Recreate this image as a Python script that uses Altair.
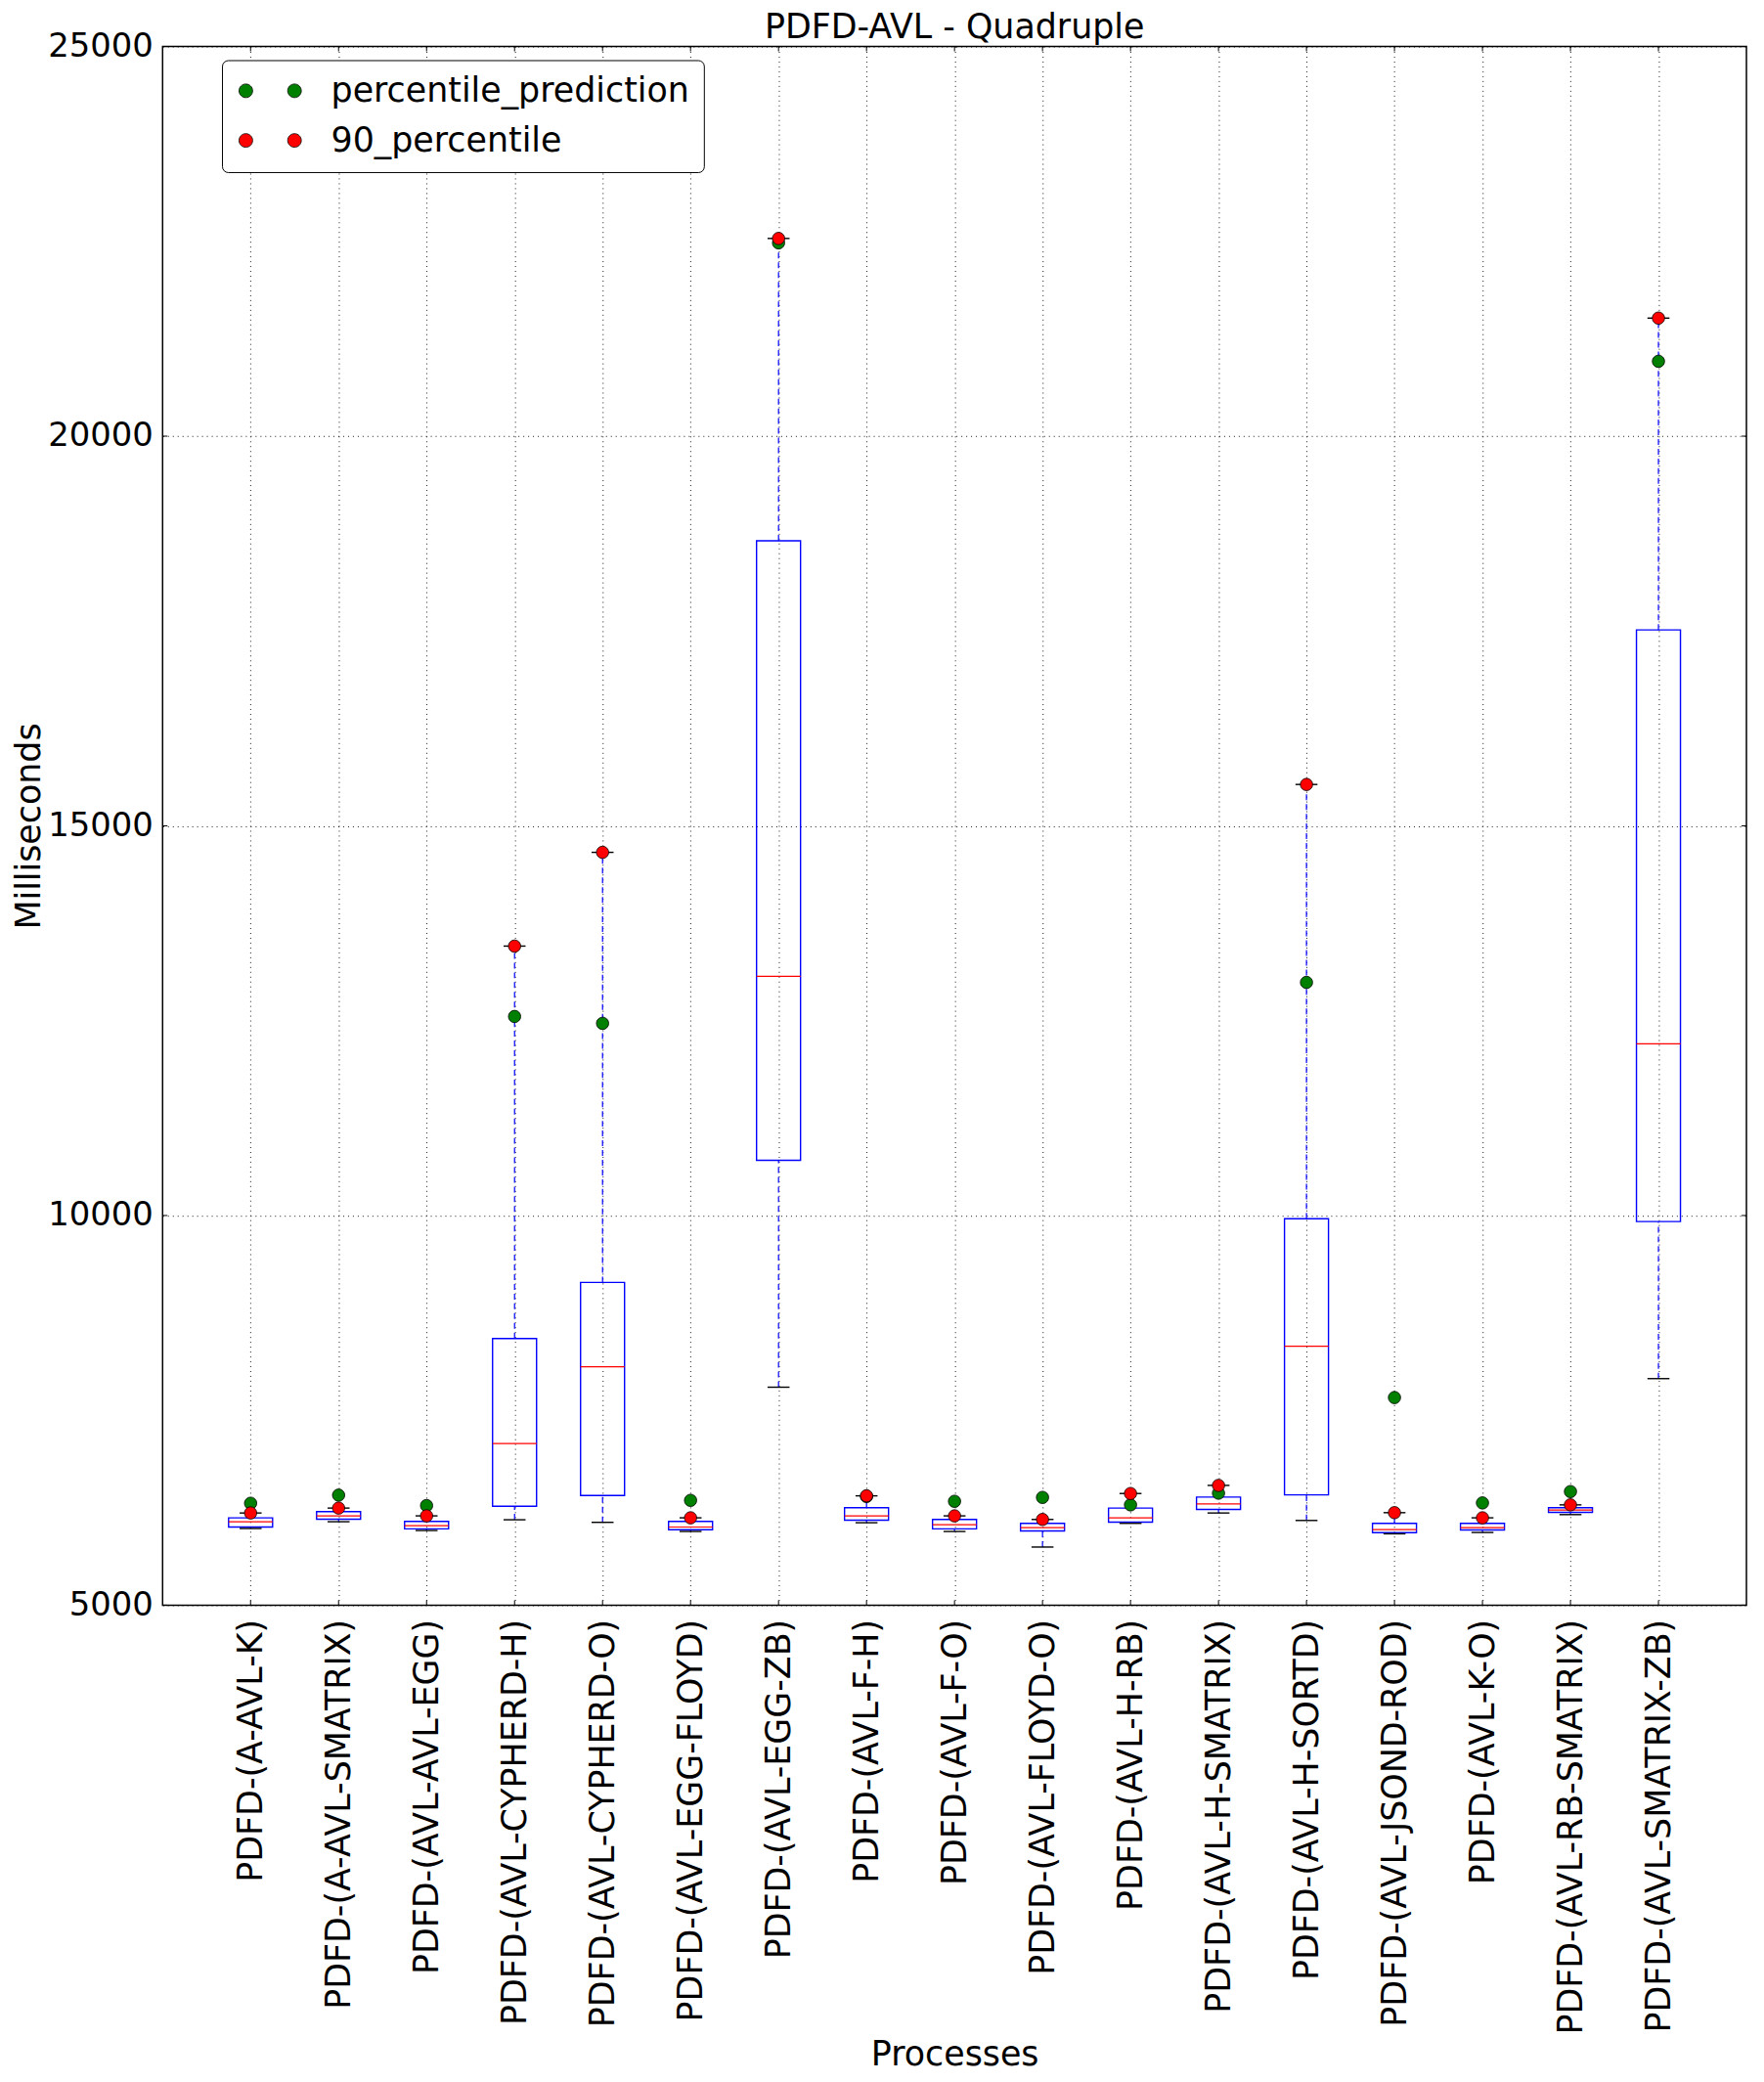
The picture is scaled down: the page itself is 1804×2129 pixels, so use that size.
import json
import altair as alt
import pandas as pd

names = ["PDFD-(A-AVL-K)", "PDFD-(A-AVL-SMATRIX)", "PDFD-(AVL-AVL-EGG)",
         "PDFD-(AVL-CYPHERD-H)", "PDFD-(AVL-CYPHERD-O)", "PDFD-(AVL-EGG-FLOYD)",
         "PDFD-(AVL-EGG-ZB)", "PDFD-(AVL-F-H)", "PDFD-(AVL-F-O)",
         "PDFD-(AVL-FLOYD-O)", "PDFD-(AVL-H-RB)", "PDFD-(AVL-H-SMATRIX)",
         "PDFD-(AVL-H-SORTD)", "PDFD-(AVL-JSOND-ROD)", "PDFD-(AVL-K-O)",
         "PDFD-(AVL-RB-SMATRIX)", "PDFD-(AVL-SMATRIX-ZB)"]
whisker_low = [5984, 6071, 5958, 6096, 6063, 5946, 7797, 6058, 5946, 5746, 6050, 6183, 6087, 5916, 5933, 6162, 7907]
q1 = [6003, 6103, 5979, 6270, 6408, 5968, 10709, 6091, 5979, 5953, 6066, 6228, 6416, 5931, 5966, 6191, 9922]
median = [6071, 6146, 6021, 7073, 8060, 6003, 13070, 6146, 6033, 5996, 6121, 6300, 8323, 5971, 5996, 6221, 12203]
q3 = [6121, 6200, 6075, 8422, 9141, 6075, 18657, 6250, 6100, 6050, 6246, 6387, 9958, 6050, 6050, 6250, 17514]
whisker_high = [6183, 6246, 6146, 13457, 14660, 6121, 22537, 6403, 6146, 6100, 6433, 6537, 15531, 6187, 6121, 6287, 21515]
percentile_prediction = [6308, 6412, 6278, 12554, 12466, 6345, 22480, 6395, 6333, 6383, 6287, 6437, 12991, 7664, 6312, 6458, 20961]
percentile_90 = [6183, 6246, 6146, 13457, 14660, 6121, 22537, 6403, 6146, 6100, 6433, 6537, 15531, 6187, 6121, 6287, 21515]
y_ticks = [5000, 10000, 15000, 20000, 25000]

series_names = ["percentile_prediction", "90_percentile"]
series_colors = ["#008000", "#FF0000"]

n = len(names)
idx = list(range(1, n + 1))
df = pd.DataFrame({
    "name": names, "idx": idx,
    "lo": whisker_low, "q1": q1, "med": median, "q3": q3, "hi": whisker_high,
    "percentile_prediction": percentile_prediction,
    "90_percentile": percentile_90,
})
X_MIN, X_MAX = 0, n + 1
Y_MIN, Y_MAX = y_ticks[0], y_ticks[-1]
ytick_df = pd.DataFrame({"y": y_ticks, "xl": [X_MIN] * len(y_ticks), "xr": [X_MAX] * len(y_ticks)})
xtick_df = pd.DataFrame({"x": idx, "yb": [Y_MIN] * n, "yt": [Y_MAX] * n})

FONT = "DejaVu Sans"
FS = 35
FSY = 34

label_expr = json.dumps(names) + "[datum.value - 1]"
xscale = alt.Scale(domain=[X_MIN, X_MAX], nice=False, zero=False)
yscale = alt.Scale(domain=[Y_MIN, Y_MAX], nice=False, zero=False)

xaxis = alt.Axis(values=idx, labelExpr=label_expr,
                 labelAngle=-90, labelFontSize=FS, labelFont=FONT, labelColor="black",
                 labelPadding=14, labelLimit=0, ticks=False, tickSize=0, domain=False,
                 grid=True, gridColor="black", gridDash=[1, 4], gridWidth=1, gridOpacity=0.9,
                 title="Processes", titleFontSize=FS, titleFont=FONT, titleFontWeight="normal",
                 titleColor="black", titleY=461, titleBaseline="middle",
                 labelOverlap=False, labelFlush=False)
yaxis = alt.Axis(values=y_ticks, format="d",
                 labelFontSize=FSY, labelFont=FONT, labelColor="black", labelPadding=10,
                 ticks=False, tickSize=0, domain=False,
                 grid=True, gridColor="black", gridDash=[1, 4], gridWidth=1, gridOpacity=0.9,
                 title="Milliseconds", titleFontSize=FS, titleFont=FONT, titleFontWeight="normal",
                 titleColor="black", titlePadding=1, labelOverlap=False, labelFlush=False)

base = alt.Chart(df)

whisk_lo = base.mark_rule(color="#0000FF", strokeDash=[6, 4], strokeWidth=1.2).encode(
    x=alt.X("idx:Q", scale=xscale, axis=xaxis),
    y=alt.Y("lo:Q", scale=yscale, axis=yaxis),
    y2="q1:Q")
whisk_hi = base.mark_rule(color="#0000FF", strokeDash=[6, 4], strokeWidth=1.2).encode(
    x=alt.X("idx:Q", scale=xscale), y=alt.Y("q3:Q", scale=yscale), y2="hi:Q")

box = base.transform_calculate(
    xl="datum.idx - 0.25", xr="datum.idx + 0.25"
).mark_rect(fillOpacity=0, fill="white", stroke="#0000FF", strokeWidth=1.4).encode(
    x=alt.X("xl:Q", scale=xscale), x2="xr:Q",
    y=alt.Y("q1:Q", scale=yscale), y2="q3:Q")

med = base.transform_calculate(
    xl="datum.idx - 0.25", xr="datum.idx + 0.25"
).mark_rule(color="#FF0000", strokeWidth=1.2).encode(
    x=alt.X("xl:Q", scale=xscale), x2="xr:Q", y=alt.Y("med:Q", scale=yscale))

cap_lo = base.transform_calculate(
    xl="datum.idx - 0.125", xr="datum.idx + 0.125"
).mark_rule(color="black", strokeWidth=1.4).encode(
    x=alt.X("xl:Q", scale=xscale), x2="xr:Q", y=alt.Y("lo:Q", scale=yscale))
cap_hi = base.transform_calculate(
    xl="datum.idx - 0.125", xr="datum.idx + 0.125"
).mark_rule(color="black", strokeWidth=1.4).encode(
    x=alt.X("xl:Q", scale=xscale), x2="xr:Q", y=alt.Y("hi:Q", scale=yscale))

# inward tick marks on all four sides (matplotlib classic style)
tk = alt.Chart(ytick_df)
tick_left = tk.mark_rule(color="black", strokeWidth=1, x2Offset=5).encode(
    x=alt.X("xl:Q", scale=xscale), x2="xl:Q", y=alt.Y("y:Q", scale=yscale))
tick_right = tk.mark_rule(color="black", strokeWidth=1, x2Offset=-5).encode(
    x=alt.X("xr:Q", scale=xscale), x2="xr:Q", y=alt.Y("y:Q", scale=yscale))
tx = alt.Chart(xtick_df)
tick_bottom = tx.mark_rule(color="black", strokeWidth=1, y2Offset=-5).encode(
    x=alt.X("x:Q", scale=xscale), y=alt.Y("yb:Q", scale=yscale), y2="yb:Q")
tick_top = tx.mark_rule(color="black", strokeWidth=1, y2Offset=5).encode(
    x=alt.X("x:Q", scale=xscale), y=alt.Y("yt:Q", scale=yscale), y2="yt:Q")

two_dots = ("M -1 0 A 1 1 0 1 0 1 0 A 1 1 0 1 0 -1 0 Z "
            "M 6.143 0 A 1 1 0 1 0 8.143 0 A 1 1 0 1 0 6.143 0 Z")

points = base.transform_fold(series_names, as_=["series", "value"]).transform_calculate(
    series_order="datum.series == 'percentile_prediction' ? 0 : 1"
).mark_circle(
    size=160, opacity=1, stroke="black", strokeWidth=0.8
).encode(
    x=alt.X("idx:Q", scale=xscale),
    y=alt.Y("value:Q", scale=yscale),
    color=alt.Color("series:N", scale=alt.Scale(domain=series_names, range=series_colors),
                    sort=series_names,
                    legend=alt.Legend(title=None, orient="none", legendX=61, legendY=14,
                                      fillColor="white", strokeColor="black", cornerRadius=6,
                                      padding=14, labelFontSize=FS, labelFont=FONT,
                                      labelColor="black", labelLimit=0,
                                      symbolType=two_dots, symbolSize=196, symbolOffset=-7,
                                      symbolStrokeColor="black", symbolStrokeWidth=0.8,
                                      labelOffset=70, rowPadding=15, symbolOpacity=1)),
    order=alt.Order("series_order:Q"),
)

chart = alt.layer(whisk_lo, whisk_hi, box, med, cap_lo, cap_hi,
                  tick_left, tick_right, tick_bottom, tick_top, points).properties(
    width=1627, height=1601,
    title=alt.TitleParams("PDFD-AVL - Quadruple", fontSize=FS, font=FONT,
                          fontWeight="normal", color="black", offset=-15),
    autosize=alt.AutoSizeParams(type="none"),
    padding={"left": 159, "top": 35, "right": 10, "bottom": 477},
).configure_view(stroke="black", strokeWidth=1.5)

chart.save("out.html", embed_options={"renderer": "svg", "actions": False})
